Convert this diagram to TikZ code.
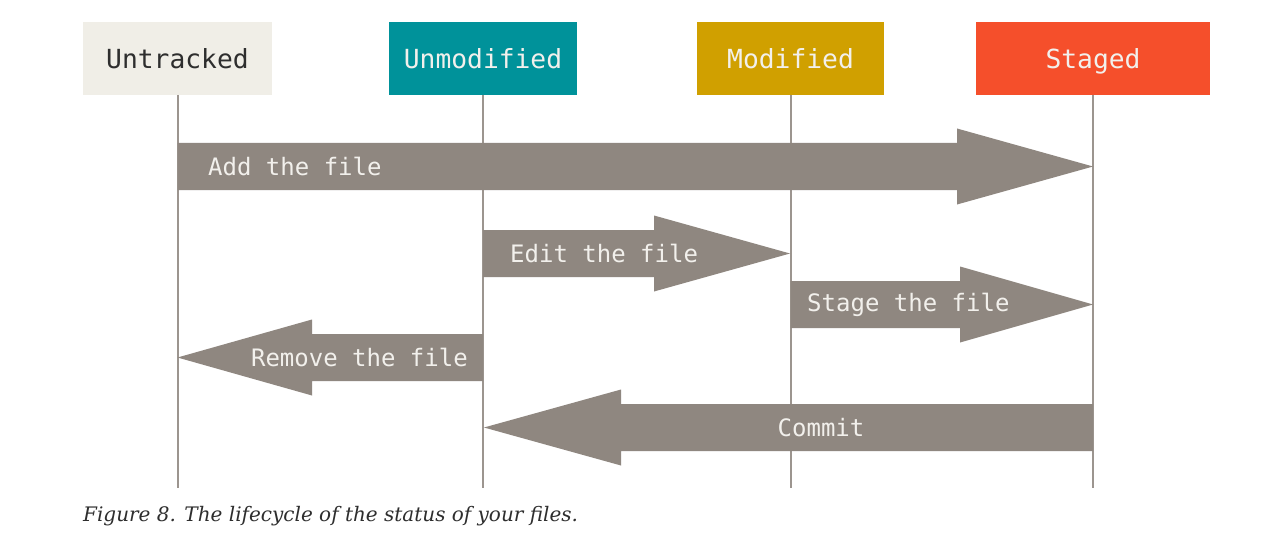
\documentclass[tikz,border=0pt]{standalone}
\usepackage{fontspec}
\setmonofont{DejaVu Sans Mono}
\newfontfamily\captionfont{DejaVu Serif}
\usetikzlibrary{calc}

\definecolor{untrackedbg}{HTML}{F0EEE7}
\definecolor{unmodifiedbg}{HTML}{00929A}
\definecolor{modifiedbg}{HTML}{D0A000}
\definecolor{stagedbg}{HTML}{F54F2B}
\definecolor{arrowgrey}{HTML}{8F8780}
\definecolor{lifeline}{HTML}{9C958F}
\definecolor{labeltext}{HTML}{F2F0EC}
\definecolor{darktext}{HTML}{2E2E2E}

% fat arrow: start x, tip x, centre y, head base x
\newcommand\fatarrow[4]{%
  \fill[arrowgrey] (#1,#3-23.5) -- (#4,#3-23.5) -- (#4,#3-38) -- (#2,#3)
    -- (#4,#3+38) -- (#4,#3+23.5) -- (#1,#3+23.5) -- cycle;}

\begin{document}
\begin{tikzpicture}[x=1pt,y=-1pt,
  state/.style={minimum height=73pt,inner sep=0pt,outer sep=0pt,
    text height=22pt,text depth=1pt,
    font=\ttfamily\fontsize{26.3}{26.3}\selectfont},
  lane/.style={lifeline,line width=2pt},
  lbl/.style={text=labeltext,inner sep=0pt,font=\ttfamily\fontsize{24}{24}\selectfont}]
\useasboundingbox[fill=white] (0,0) rectangle (1265,556);

% state headers
\node[state,fill=untrackedbg,text=darktext,minimum width=189pt] (u) at (177.5,58.5) {Untracked};
\node[state,fill=unmodifiedbg,text=labeltext,minimum width=188pt] (um) at (483,58.5) {Unmodified};
\node[state,fill=modifiedbg,text=labeltext,minimum width=187pt] (m) at (790.5,58.5) {Modified};
\node[state,fill=stagedbg,text=labeltext,minimum width=234pt] (s) at (1093,58.5) {Staged};

% lifelines
\coordinate (uE) at (177.5,488);
\coordinate (umE) at (483,488);
\coordinate (mE) at (790.5,488);
\coordinate (sE) at (1093,488);
\draw[lane] (u.south) -- (uE);
\draw[lane] (um.south) -- (umE);
\draw[lane] (m.south) -- (mE);
\draw[lane] (s.south) -- (sE);

% transitions
\fatarrow{177.5}{1093}{166.5}{957}
\node[lbl,anchor=west] (add) at (208,166.5) {Add the file};

\fatarrow{483}{790}{253.5}{654}
\node[lbl,anchor=west] (edit) at (510,253.5) {Edit the file};

\fatarrow{790.5}{1093}{304.5}{960}
\node[lbl,anchor=west] (stage) at (807,304.5) {Stage the file};

\fatarrow{483}{177.5}{357.5}{312}
\node[lbl,anchor=east] (remove) at (468,357.5) {Remove the file};

\fatarrow{1093}{484}{427.5}{621}
\node[lbl] (commit) at (821,427.5) {Commit};

% caption
\node[anchor=west,inner sep=0pt,text=darktext,
  font=\captionfont\itshape\fontsize{20}{20}\selectfont] (cap) at (83,516)
  {Figure 8. The lifecycle of the status of your files.};
\end{tikzpicture}
\end{document}
